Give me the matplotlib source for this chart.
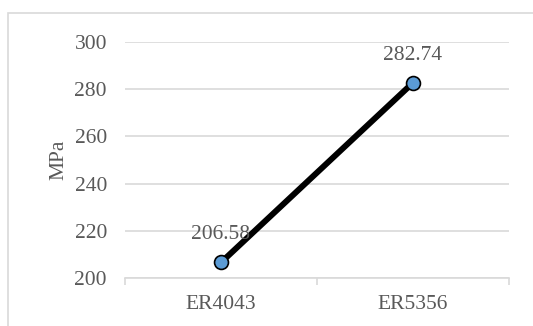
import matplotlib.pyplot as plt
from matplotlib.patches import Rectangle

categories = ['ER4043', 'ER5356']
strength = [206.58, 282.74]
y_ticks = [200, 220, 240, 260, 280, 300]

plt.rcParams['font.family'] = ['Liberation Serif', 'DejaVu Serif']
text_col = '#595959'
grid_col = '#d9d9d9'
fs = 15.5

fig = plt.figure(figsize=(5.33, 3.26), dpi=100)
# chart frame (runs off the right and bottom edge in the reference)
fig.patches.append(Rectangle((8 / 533, -0.05), 1.1, 1 - 13 / 326 + 0.05,
                             transform=fig.transFigure, fill=False,
                             edgecolor=grid_col, linewidth=1.2))

ax = fig.add_axes([125 / 533, 48 / 326, 384 / 533, 236 / 326])
x = [i + 0.5 for i in range(len(categories))]
ax.plot(x, strength, color='black', linewidth=4.3, marker='o', markersize=10,
        markerfacecolor='#5b9bd5', markeredgecolor='black', markeredgewidth=1.2,
        solid_capstyle='round', zorder=3)
for xi, v in zip(x, strength):
    ax.annotate(f'{v:.2f}', (xi, v), xytext=(0, 13), textcoords='offset points',
                ha='center', va='bottom', fontsize=fs, color=text_col)

ax.set_xlim(0, len(categories))
ax.set_ylim(200, 300)
ax.set_yticks(y_ticks)
ax.set_xticks(x)
ax.set_xticklabels(categories)
ax.set_xticks(range(len(categories) + 1), minor=True)
ax.tick_params(axis='x', which='major', length=0, pad=12, labelsize=fs, labelcolor=text_col)
ax.tick_params(axis='x', which='minor', length=5, color=grid_col, width=1.2)
ax.tick_params(axis='y', length=0, pad=13, labelsize=fs, labelcolor=text_col)
ax.set_ylabel('MPa', fontsize=fs, color=text_col, labelpad=4)

ax.grid(axis='y', color=grid_col, linewidth=1.2)
ax.set_axisbelow(True)
for s in ['top', 'right', 'left']:
    ax.spines[s].set_visible(False)
ax.spines['bottom'].set_color(grid_col)
ax.spines['bottom'].set_linewidth(1.2)

fig.savefig('out.png', dpi=100)
